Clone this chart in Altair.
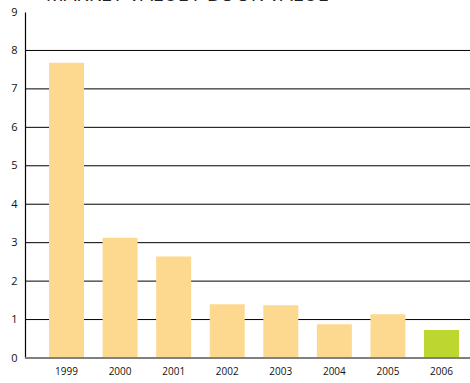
import altair as alt
import pandas as pd

years = ["1999", "2000", "2001", "2002", "2003", "2004", "2005", "2006"]
values = [7.68, 3.13, 2.64, 1.40, 1.37, 0.88, 1.14, 0.73]
highlight = [False, False, False, False, False, False, False, True]
grid_values = [1, 2, 3, 4, 5, 6, 7, 8]
y_ticks = [0, 1, 2, 3, 4, 5, 6, 7, 8, 9]

df = pd.DataFrame({"year": years, "value": values, "hl": highlight})
gdf = pd.DataFrame({"g": grid_values})

font = "Open Sans"

y_scale = alt.Scale(domain=[0, 9], nice=False)


def y_axis():
    return alt.Axis(title=None, values=y_ticks, tickCount=10, grid=False, labelOverlap=False,
                    ticks=False, domain=True, domainColor="#000000",
                    domainWidth=1.2, labelFont=font, labelFontSize=11,
                    labelColor="#111111", labelPadding=8)


grid = alt.Chart(gdf).mark_rule(color="#000000", strokeWidth=1).encode(
    y=alt.Y("g:Q", scale=y_scale, axis=y_axis())
)

bars = alt.Chart(df).mark_bar().encode(
    x=alt.X("year:N", sort=years,
            scale=alt.Scale(paddingInner=0.347, paddingOuter=0.327, align=0.686),
            axis=alt.Axis(title=None, labelAngle=0, domain=False, ticks=False,
                          labelFont=font, labelFontSize=10, labelColor="#111111",
                          labelPadding=8)),
    y=alt.Y("value:Q", scale=y_scale, axis=y_axis()),
    color=alt.Color("hl:N", scale=alt.Scale(domain=[False, True],
                                             range=["#FDD990", "#BED630"]),
                    legend=None),
)

zero = alt.Chart(pd.DataFrame({"z": [0]})).mark_rule(color="#808080", strokeWidth=2).encode(
    y=alt.Y("z:Q", scale=y_scale, axis=y_axis())
)

chart = alt.layer(grid, bars, zero).properties(
    width=445, height=346,
    background="white",
    autosize=alt.AutoSizeParams(type="none"),
    padding={"left": 25, "top": 12, "right": 0, "bottom": 25},
    title=alt.TitleParams("MARKET VALUE  / BOOK VALUE", anchor="start", font=font,
                          fontSize=20, fontWeight="normal", color="#222222",
                          baseline="alphabetic", offset=0, dx=35, dy=15),
).configure_view(stroke=None)

chart.save("out.html", embed_options={"renderer": "svg", "actions": False})
